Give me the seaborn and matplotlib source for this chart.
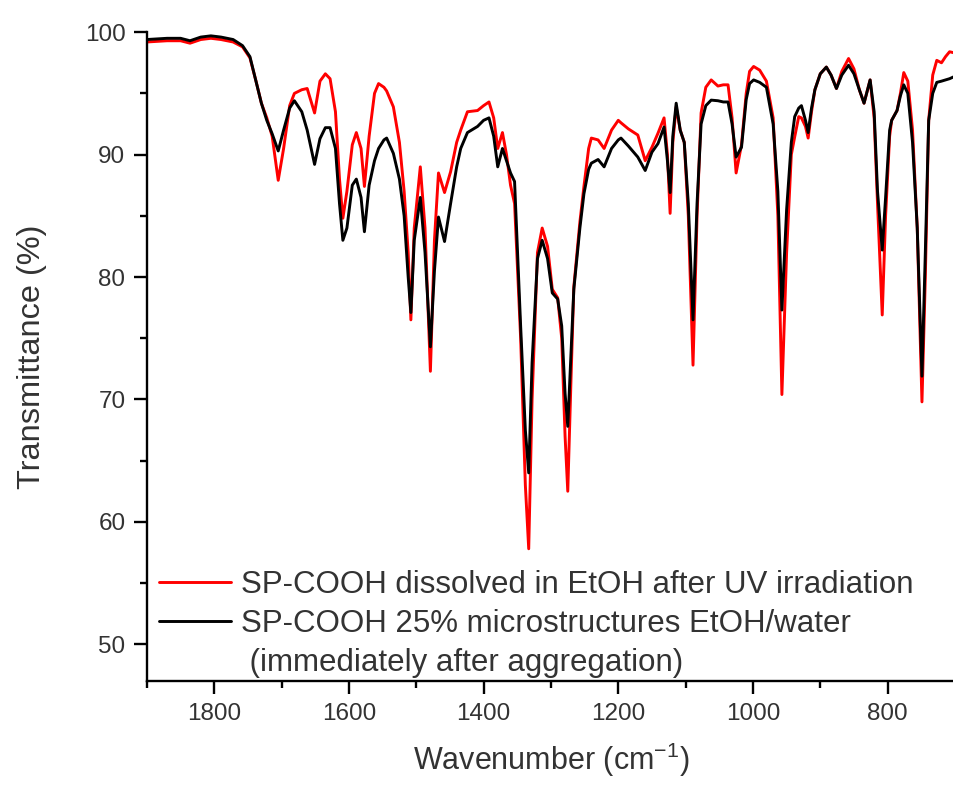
import matplotlib
matplotlib.use("Agg")
import matplotlib.pyplot as plt
from matplotlib.lines import Line2D
from matplotlib.ticker import MultipleLocator
import seaborn as sns
import pandas as pd

# wavenumber grid (cm-1) and transmittance (%)
wavenumber = [
    1900, 1870, 1850, 1836, 1820, 1805, 1790, 1772, 1758, 1747, 1738, 1730,
    1722, 1714, 1705, 1697, 1688, 1681, 1670, 1662, 1651, 1643, 1635, 1628,
    1620, 1614, 1609, 1603, 1595, 1589, 1582, 1577, 1570, 1562, 1556, 1548,
    1544, 1534, 1525, 1518, 1512, 1508, 1503, 1494, 1487, 1479, 1473, 1467,
    1458, 1449, 1440, 1434, 1424, 1409, 1400, 1392, 1385, 1379, 1372, 1366,
    1360, 1354, 1345, 1338, 1333, 1328, 1320, 1313, 1305, 1298, 1290, 1284,
    1279, 1275, 1270, 1266, 1257, 1251, 1244, 1240, 1230, 1221, 1210, 1200,
    1196, 1185, 1171, 1160, 1150, 1141, 1132, 1127, 1123, 1119, 1114, 1108,
    1102, 1096, 1089, 1083, 1077, 1070, 1062, 1052, 1044, 1037, 1031, 1025,
    1017, 1010, 1005, 999, 990, 980, 970, 963, 957, 950, 943, 938,
    932, 928, 922, 918, 913, 908, 900, 891, 884, 876, 868, 858,
    850, 842, 835, 826, 820, 815, 808, 803, 797, 794, 786, 781,
    776, 770, 763, 756, 749, 744, 739, 733, 727, 720, 714, 708,
    700,
]

uv_ethanol = [
    99.2, 99.3, 99.3, 99.1, 99.4, 99.5, 99.4, 99.2, 98.8, 97.9, 96.0, 94.2,
    93.0, 91.5, 87.9, 90.5, 94.0, 95.0, 95.3, 95.4, 93.4, 96.0, 96.6, 96.2,
    93.5, 88.0, 84.8, 87.0, 90.8, 91.8, 90.5, 87.4, 91.5, 95.0, 95.8, 95.5,
    95.2, 93.9, 91.0, 87.0, 82.0, 76.5, 84.0, 89.0, 84.0, 72.3, 83.0, 88.5,
    86.9, 88.6, 91.0, 92.0, 93.5, 93.6, 94.0, 94.3, 93.0, 90.5, 91.8, 90.0,
    87.5, 86.0, 75.0, 63.0, 57.8, 70.0, 82.0, 84.0, 82.5, 79.0, 78.3, 75.0,
    67.0, 62.5, 72.0, 79.2, 84.5, 87.4, 90.5, 91.35, 91.2, 90.5, 92.0, 92.8,
    92.6, 92.1, 91.6, 89.5, 90.6, 91.75, 93.0, 90.0, 85.2, 91.0, 93.9, 92.0,
    91.0, 85.0, 72.8, 85.0, 93.4, 95.5, 96.1, 95.6, 95.7, 95.7, 93.0, 88.5,
    90.8, 95.0, 96.8, 97.2, 96.9, 96.0, 93.0, 85.0, 70.4, 82.0, 90.0, 91.45,
    93.1, 93.0, 92.3, 91.35, 93.5, 95.3, 96.6, 97.15, 96.5, 95.4, 96.8, 97.85,
    97.0, 95.3, 94.2, 96.1, 93.0, 86.0, 76.9, 85.0, 91.5, 92.8, 93.6, 95.0,
    96.7, 96.0, 92.0, 84.0, 69.8, 80.0, 92.8, 96.5, 97.7, 97.5, 98.0, 98.4,
    98.3,
]

microstructures = [
    99.4, 99.5, 99.5, 99.3, 99.6, 99.7, 99.6, 99.4, 98.9, 98.0, 96.0, 94.2,
    92.8, 91.7, 90.3, 92.0, 93.8, 94.4, 93.5, 92.0, 89.2, 91.3, 92.2, 92.2,
    90.5, 86.0, 83.0, 84.0, 87.5, 88.0, 86.5, 83.7, 87.5, 89.5, 90.5, 91.2,
    91.35, 90.1, 88.0, 85.0, 80.0, 77.1, 83.0, 86.5, 82.0, 74.3, 80.5, 84.9,
    82.9, 86.0, 89.0, 90.5, 91.8, 92.3, 92.8, 93.0, 91.5, 89.0, 90.5, 89.5,
    88.5, 87.8, 76.0, 67.5, 64.0, 73.0, 81.5, 83.0, 81.5, 78.7, 78.2, 76.0,
    70.5, 67.8, 74.0, 79.0, 84.0, 86.8, 88.8, 89.3, 89.6, 89.0, 90.5, 91.2,
    91.35, 90.7, 89.8, 88.7, 90.2, 90.9, 92.25, 89.5, 86.9, 91.5, 94.2, 92.0,
    91.0, 86.0, 76.5, 86.0, 92.5, 94.0, 94.45, 94.4, 94.3, 94.3, 92.5, 89.8,
    90.6, 94.5, 95.8, 96.1, 95.9, 95.5, 92.5, 87.0, 77.3, 85.5, 91.0, 93.1,
    93.8, 94.0, 92.8, 91.8, 93.8, 95.3, 96.6, 97.15, 96.5, 95.4, 96.5, 97.3,
    96.6, 95.3, 94.2, 96.1, 93.5, 87.0, 82.2, 86.5, 92.0, 92.8, 93.6, 94.8,
    95.7, 95.0, 91.0, 84.0, 71.9, 82.0, 92.8, 95.0, 95.9, 96.0, 96.1, 96.2,
    96.4,
]

label_uv = "SP-COOH dissolved in EtOH after UV irradiation"
label_micro = "SP-COOH 25% microstructures EtOH/water"
label_micro_2 = " (immediately after aggregation)"

df = pd.DataFrame({"wn": wavenumber, "uv": uv_ethanol, "micro": microstructures})

sns.set_style("ticks")
plt.rcParams["font.family"] = ["Liberation Sans", "DejaVu Sans"]
plt.rcParams["mathtext.fontset"] = "custom"
plt.rcParams["mathtext.rm"] = "Liberation Sans"
plt.rcParams["mathtext.it"] = "Liberation Sans:italic"

fig = plt.figure(figsize=(9.54, 7.85), dpi=100)
ax = fig.add_axes([0.154, 0.1325, 0.847, 0.8265])

sns.lineplot(data=df, x="wn", y="uv", color="#ff0000", linewidth=2.1, ax=ax)
sns.lineplot(data=df, x="wn", y="micro", color="#000000", linewidth=2.1, ax=ax)

ax.set_xlim(1900, 700)
ax.set_ylim(47, 100)
ax.xaxis.set_major_locator(MultipleLocator(200))
ax.xaxis.set_minor_locator(MultipleLocator(100))
ax.yaxis.set_major_locator(MultipleLocator(10))
ax.yaxis.set_minor_locator(MultipleLocator(5))

for side in ["top", "right"]:
    ax.spines[side].set_visible(False)
for side in ["left", "bottom"]:
    ax.spines[side].set_linewidth(1.7)
    ax.spines[side].set_color("black")

ax.tick_params(which="major", direction="out", length=9.5, width=1.7,
               labelsize=17.5, colors="black", labelcolor="#333333", pad=6)
ax.tick_params(which="minor", direction="out", length=5, width=1.7, colors="black")

ax.set_xlabel(r"Wavenumber (cm$^{-1}$)", fontsize=22, color="#333333", labelpad=12)
ax.set_ylabel("Transmittance (%)", fontsize=23.4, color="#333333", labelpad=27)

handles = [
    Line2D([], [], color="#ff0000", linewidth=2.1),
    Line2D([], [], color="#000000", linewidth=2.1),
    Line2D([], [], linestyle="none"),
]
ax.legend(handles, [label_uv, label_micro, label_micro_2],
          loc="center left", bbox_to_anchor=(0.0, 0.088), frameon=False,
          fontsize=22.5, handlelength=2.3, handletextpad=0.3,
          labelspacing=0.3, borderaxespad=0.0, labelcolor="#333333")

fig.savefig("out.png", dpi=100)
